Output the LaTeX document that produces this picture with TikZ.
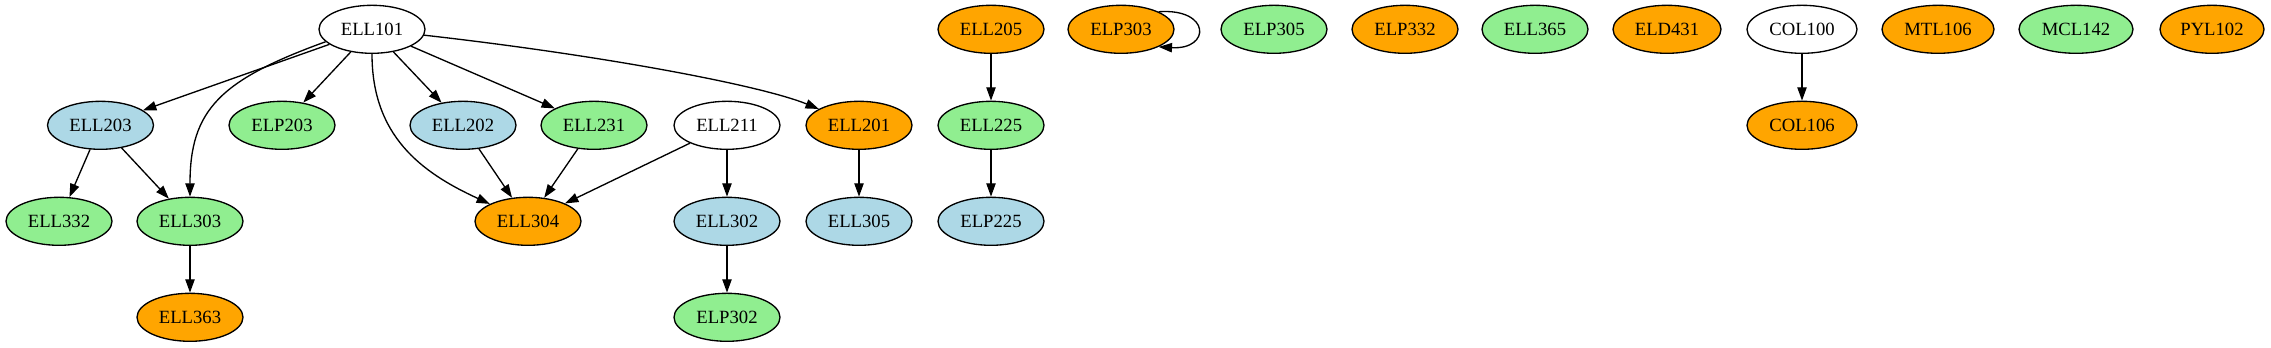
\documentclass[tikz,border=0pt]{standalone}
\usepackage{fontspec}
\setmainfont{Liberation Serif}
\usetikzlibrary{arrows.meta,shapes.geometric}
\definecolor{lgreen}{HTML}{90EE90}
\definecolor{lblue}{HTML}{ADD8E6}
\definecolor{gorange}{HTML}{FFA500}
\begin{document}
\begin{tikzpicture}[x=0.75pt,y=-0.75pt,
 course/.style={ellipse,draw=black,line width=1pt,minimum height=36pt,minimum width=79.5pt,inner sep=0pt,font=\fontsize{14}{16}\selectfont},
 gn/.style={course,fill=lgreen},
 bl/.style={course,fill=lblue},
 og/.style={course,fill=gorange},
 wh/.style={course,fill=white},
 arr/.style={-{Triangle[length=10pt,width=7pt]},line width=1pt}]
\useasboundingbox (0,0) rectangle (2271,347);
% row 1
\node[wh] (ELL101) at (372,29.3) {ELL101};
\node[og] (ELL205) at (991,29.3) {ELL205};
\node[og] (ELP303) at (1121,29.3) {ELP303};
\node[gn] (ELP305) at (1274,29.3) {ELP305};
\node[og] (ELP332) at (1405,29.3) {ELP332};
\node[gn] (ELL365) at (1535,29.3) {ELL365};
\node[og,minimum width=81pt] (ELD431) at (1667,29.3) {ELD431};
\node[wh,minimum width=82.5pt] (COL100) at (1802,29.3) {COL100};
\node[og,minimum width=84pt] (MTL106) at (1938,29.3) {MTL106};
\node[gn,minimum width=85.5pt] (MCL142) at (2076,29.3) {MCL142};
\node[og,minimum width=78pt] (PYL102) at (2212,29.3) {PYL102};
% row 2
\node[bl] (ELL203) at (100.5,125.3) {ELL203};
\node[gn] (ELP203) at (282,125.3) {ELP203};
\node[bl] (ELL202) at (463,125.3) {ELL202};
\node[gn] (ELL231) at (594,125.3) {ELL231};
\node[wh] (ELL211) at (727,125.3) {ELL211};
\node[og] (ELL201) at (859,125.3) {ELL201};
\node[gn] (ELL225) at (991,125.3) {ELL225};
\node[og,minimum width=82.5pt] (COL106) at (1802,125.3) {COL106};
% row 3
\node[gn] (ELL332) at (59,221.3) {ELL332};
\node[gn] (ELL303) at (190,221.3) {ELL303};
\node[og] (ELL304) at (528,221.3) {ELL304};
\node[bl] (ELL302) at (727,221.3) {ELL302};
\node[bl] (ELL305) at (859,221.3) {ELL305};
\node[bl] (ELP225) at (991,221.3) {ELP225};
% row 4
\node[og] (ELL363) at (190,317.3) {ELL363};
\node[gn] (ELP302) at (727,317.3) {ELP302};
% edges
\draw[arr] (ELL101) -- (ELL203);
\draw[arr] (ELL101.195) .. controls (220,80) and (190,110) .. (ELL303);
\draw[arr] (ELL101) -- (ELP203);
\draw[arr] (ELL101.south) .. controls (372,135) and (420,172) .. (ELL304);
\draw[arr] (ELL101) -- (ELL202);
\draw[arr] (ELL101) -- (ELL231);
\draw[arr] (ELL101) .. controls (600,55) and (760,85) .. (ELL201);
\draw[arr] (ELL203) -- (ELL332);
\draw[arr] (ELL203) -- (ELL303);
\draw[arr] (ELL202) -- (ELL304);
\draw[arr] (ELL231) -- (ELL304);
\draw[arr] (ELL211) -- (ELL304);
\draw[arr] (ELL211) -- (ELL302);
\draw[arr] (ELL302) -- (ELP302);
\draw[arr] (ELL303) -- (ELL363);
\draw[arr] (ELL201) -- (ELL305);
\draw[arr] (ELL205) -- (ELL225);
\draw[arr] (ELL225) -- (ELP225);
\draw[arr] (ELP303.25) .. controls (1211,8) and (1211,50) .. (ELP303.-25);
\draw[arr] (COL100) -- (COL106);
\end{tikzpicture}
\end{document}
